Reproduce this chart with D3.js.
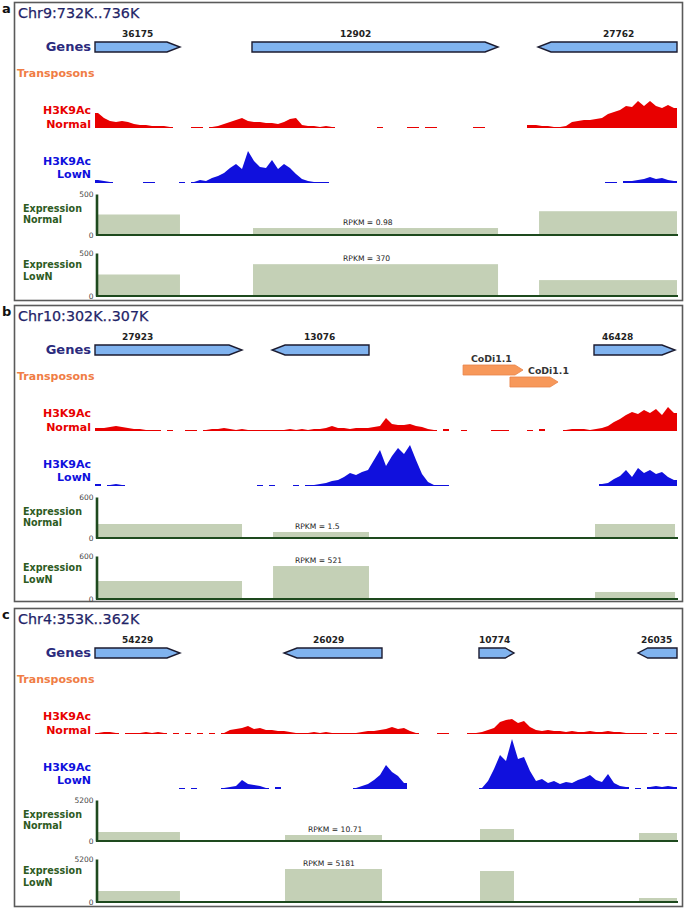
<!DOCTYPE html>
<html><head><meta charset="utf-8">
<script src="https://cdn.jsdelivr.net/npm/d3@7"></script>
<style>body{margin:0;background:#fff}svg{display:block}</style>
</head><body>
<svg id="chart" width="685" height="909"></svg>
<script>
// ---------------- DATA ----------------
const panelLetters = ["a", "b", "c"];
const regionTitles = ["Chr9:732K..736K", "Chr10:302K..307K", "Chr4:353K..362K"];
const regionStartKb = [732, 302, 353];
const regionEndKb = [736, 307, 362];

// genes: id, start/end (kb), strand, label anchor (kb)
const genesA = [
  {name: "36175", start: 732.000, end: 732.584, strand: 1, label: 732.186},
  {name: "12902", start: 733.079, end: 734.770, strand: 1, label: 733.684},
  {name: "27762", start: 735.045, end: 736.000, strand: -1, label: 735.491}
];
const genesB = [
  {name: "27923", start: 302.000, end: 303.263, strand: 1, label: 302.232},
  {name: "13076", start: 303.521, end: 304.354, strand: -1, label: 303.796},
  {name: "46428", start: 306.287, end: 306.983, strand: 1, label: 306.356}
];
const genesC = [
  {name: "54229", start: 353.000, end: 354.314, strand: 1, label: 353.418},
  {name: "26029", start: 355.923, end: 357.438, strand: -1, label: 356.371},
  {name: "10774", start: 358.938, end: 359.479, strand: 1, label: 358.938},
  {name: "26035", start: 361.397, end: 362.000, strand: -1, label: 361.443}
];
const transposonsA = [];
const transposonsB = [
  {name: "CoDi1.1", start: 305.162, end: 305.677, strand: 1, label: 305.230, row: 0},
  {name: "CoDi1.1", start: 305.565, end: 305.978, strand: 1, label: 305.720, row: 1}
];
const transposonsC = [];

// H3K9Ac coverage, equal bins across each region (null = no data)
const h3k9acNormalA = [15,10,7,6,7,6,4,3,3,2, 2,2,1,null,null,null,1,1,null,1,
  2,4,6,8,10,7,6,6,5,5, 4,6,9,10,3,2,2,1,2,1,
  null,null,null,null,null,null,null,1,null,null, null,null,1,1,null,1,1,null,null,null,
  null,null,null,1,1,null,null,null,null,null, null,null,3,3,2,2,1,1,2,6,
  7,8,8,9,10,14,16,18,22,21, 27,22,27,22,20,23,20];
const h3k9acLowNA = [3,2,1,null,null,null,null,null,1,1, null,null,null,null,1,null,1,3,2,5,
  7,10,15,19,14,32,22,16,15,23, 14,19,15,9,4,2,1,1,1,null,
  null,null,null,null,null,null,null,null,null,null, null,null,null,null,null,null,null,null,null,null,
  null,null,null,null,null,null,null,null,null,null, null,null,null,null,null,null,null,null,null,null,
  null,null,null,null,null,1,1,null,2,2, 3,4,6,4,5,3,2];
const h3k9acNormalB = [3,3,4,5,4,3,2,2,1,1, 1,null,1,null,null,1,1,null,1,2,
  2,3,2,1,2,1,1,1,1,1, 1,1,2,1,2,1,2,2,3,5,
  3,3,2,3,3,3,4,5,13,7, 6,6,7,5,4,2,1,null,2,null,
  null,1,null,null,null,null,1,1,1,null, null,null,1,null,2,null,null,null,1,2,
  2,2,1,2,3,5,9,12,16,19, 17,21,18,22,16,24,18];
const h3k9acLowNB = [2,null,1,2,1,null,null,null,null,null, null,null,null,null,null,null,null,null,null,null,
  null,null,null,null,null,null,null,1,null,1, null,null,null,1,null,1,1,2,3,5,
  6,9,13,11,14,16,26,36,20,30, 38,32,41,26,12,4,1,1,1,null,
  null,null,null,null,null,null,null,null,null,null, null,null,null,null,null,null,null,null,null,null,
  null,null,null,null,2,3,7,10,16,9, 18,13,16,12,14,9,6];
const h3k9acNormalC = [1,2,2,1,null,1,1,1,2,1, 2,1,null,1,null,1,null,1,null,1,
  null,1,4,5,6,8,5,6,4,4, 3,3,2,1,1,1,2,1,2,1,
  1,1,1,1,2,3,3,4,5,7, 5,6,3,1,null,null,null,1,1,null,
  null,null,1,1,2,4,6,12,14,15, 11,13,7,4,3,4,3,3,2,3,
  2,2,3,2,2,3,2,2,1,1, 1,1,null,1,null,1,1];
const h3k9acLowNC = [null,null,null,null,null,null,null,null,null,null, null,null,null,null,1,null,1,null,null,null,
  null,1,2,3,9,5,4,3,1,null, 2,null,null,null,null,null,null,null,null,null,
  null,null,null,1,3,5,9,14,24,17, 13,6,null,null,null,null,null,null,null,null,
  null,null,null,null,1,8,20,34,28,50, 30,32,18,8,10,6,8,5,7,6,
  9,11,14,9,7,15,6,3,2,null, 1,null,2,3,2,3,2];

// expression per gene (same order as genes)
const expressionNormalA = [250, 85, 290];
const expressionLowNA = [250, 370, 185];
const expressionNormalB = [205, 88, 205];
const expressionLowNB = [251, 460, 98];
const expressionNormalC = [1141, 761, 1522, 1015];
const expressionLowNC = [1330, 3990, 3749, 484];
const expressionAxisMax = [500, 600, 5200];
const rpkmNormal = ["RPKM = 0.98", "RPKM = 1.5", "RPKM = 10.71"];
const rpkmLowN = ["RPKM = 370", "RPKM = 521", "RPKM = 5181"];
const rpkmNormalAtKb = [733.705, 303.718, 356.294];
const rpkmLowNAtKb = [733.705, 303.718, 356.216];
const rpkmGeneIndex = [1, 1, 1];

// ---------------- DRAW ----------------
const panels = [
  {genes: genesA, tes: transposonsA, normal: h3k9acNormalA, lown: h3k9acLowNA, exN: expressionNormalA, exL: expressionLowNA},
  {genes: genesB, tes: transposonsB, normal: h3k9acNormalB, lown: h3k9acLowNB, exN: expressionNormalB, exL: expressionLowNB},
  {genes: genesC, tes: transposonsC, normal: h3k9acNormalC, lown: h3k9acLowNC, exN: expressionNormalC, exL: expressionLowNC}
];
const panelTop = [2, 305, 608];
const panelH = [298, 296, 298];
const FONT = "'DejaVu Sans', Verdana, sans-serif";
const svg = d3.select("#chart");
const X0 = 95, X1 = 677;
const sigH = d3.scaleLinear().domain([0, 50]).range([0, 50]);

function arrowPts(x0, x1, y0, y1, strand, maxHead) {
  const w = x1 - x0, h = Math.min(maxHead, w * 0.25), ym = (y0 + y1) / 2;
  if (strand > 0) return [[x0,y0],[x1-h,y0],[x1,ym],[x1-h,y1],[x0,y1]];
  return [[x0+h,y0],[x1,y0],[x1,y1],[x0+h,y1],[x0,ym]];
}

panels.forEach((P, p) => {
  const T = panelTop[p];
  const g = svg.append("g");
  const xs = d3.scaleLinear().domain([regionStartKb[p], regionEndKb[p]]).range([X0, X1]);

  g.append("rect").attr("x", 14.5).attr("y", T + 0.5).attr("width", 668).attr("height", panelH[p])
    .attr("fill", "none").attr("stroke", "#5a5a5a").attr("stroke-width", 1.6);
  g.append("text").attr("x", 2).attr("y", T + 11).text(panelLetters[p])
    .attr("font-family", FONT).attr("font-weight", "bold").attr("font-size", 13).attr("fill", "#111");
  g.append("text").attr("x", 18).attr("y", T + 16).text(regionTitles[p])
    .attr("font-family", FONT).attr("font-size", 14.3).attr("fill", "#1f2468")
    .attr("stroke", "#1f2468").attr("stroke-width", 0.25);

  // Genes
  g.append("text").attr("x", 91).attr("y", T + 49).attr("text-anchor", "end").text("Genes")
    .attr("font-family", FONT).attr("font-weight", "bold").attr("font-size", 13).attr("fill", "#2b2b7d");
  P.genes.forEach(d => {
    const pts = arrowPts(xs(d.start), xs(d.end), T + 40, T + 50, d.strand, 13);
    g.append("polygon").attr("points", pts.map(q => q.join(",")).join(" "))
      .attr("fill", "#80b3ef").attr("stroke", "#1b1b30").attr("stroke-width", 1.4);
    g.append("text").attr("x", xs(d.label)).attr("y", T + 35).text(d.name)
      .attr("font-family", FONT).attr("font-weight", "bold").attr("font-size", 9).attr("fill", "#222");
  });

  // Transposons
  g.append("text").attr("x", 17).attr("y", T + 75).text("Transposons")
    .attr("font-family", FONT).attr("font-weight", "bold").attr("font-size", 11).attr("fill", "#f07d45");
  P.tes.forEach(d => {
    const y0 = T + 60 + d.row * 12;
    const pts = arrowPts(xs(d.start), xs(d.end), y0, y0 + 10, d.strand, 8);
    g.append("polygon").attr("points", pts.map(q => q.join(",")).join(" "))
      .attr("fill", "#f7985a").attr("stroke", "#e8844a").attr("stroke-width", 0.8);
    g.append("text").attr("x", xs(d.label)).attr("y", y0 - 3).text(d.name)
      .attr("font-family", FONT).attr("font-weight", "bold").attr("font-size", 9.4).attr("fill", "#333");
  });

  // Signal tracks
  function drawSignal(values, base, color, labelLines, labelOff) {
    const n = values.length, span = regionEndKb[p] - regionStartKb[p];
    const binStart = i => regionStartKb[p] + i / n * span;
    const runs = [];
    let cur = null;
    values.forEach((v, i) => {
      if (v == null) { cur = null; return; }
      if (!cur) { cur = []; runs.push(cur); cur.push({x: xs(binStart(i)), v}); }
      cur.push({x: xs(binStart(i + 0.5)), v});
      cur.lastIdx = i;
    });
    runs.forEach(r => { const i = r.lastIdx; r.push({x: xs(binStart(i + 1)), v: r[r.length - 1].v}); });
    const area = d3.area().x(d => d.x).y0(base).y1(d => base - sigH(d.v));
    runs.forEach(r => g.append("path").attr("d", area(r)).attr("fill", color));
    labelLines.forEach((t, k) => {
      g.append("text").attr("x", 91).attr("y", base + labelOff[k]).attr("text-anchor", "end").text(t)
        .attr("font-family", FONT).attr("font-weight", "bold").attr("font-size", 11).attr("fill", color);
    });
  }
  drawSignal(P.normal, T + 126, "#e80000", ["H3K9Ac", "Normal"], [-14, 0]);
  drawSignal(P.lown, T + 181, "#1010dd", ["H3K9Ac", "LowN"], [-18, -5]);

  // Expression tracks
  function drawExpr(values, top, bottom, lines, labY, rpkm, rpkmKb) {
    const ys = d3.scaleLinear().domain([0, expressionAxisMax[p]]).range([bottom, top]);
    P.genes.forEach((d, i) => {
      g.append("rect").attr("x", xs(d.start) + 1).attr("y", ys(values[i]))
        .attr("width", xs(d.end) - xs(d.start) - 1).attr("height", bottom - ys(values[i]))
        .attr("fill", "#c4d0b6");
    });
    g.append("line").attr("x1", 96).attr("x2", 678).attr("y1", bottom).attr("y2", bottom)
      .attr("stroke", "#1e4a1e").attr("stroke-width", 2);
    const ax = g.append("g").attr("transform", "translate(96.5,0)")
      .call(d3.axisLeft(ys).tickValues([0, expressionAxisMax[p]]).tickFormat(d3.format("d")).tickSize(0).tickPadding(3));
    ax.select(".domain").attr("stroke", "#1e4a1e").attr("stroke-width", 2.6);
    ax.selectAll("text").attr("font-family", FONT).attr("font-size", 7.5).attr("fill", "#444");
    lines.forEach((t, k) => {
      g.append("text").attr("x", 23).attr("y", labY[k]).text(t)
        .attr("font-family", FONT).attr("font-weight", "bold").attr("font-size", 9.6).attr("fill", "#2e5b1f");
    });
    g.append("text").attr("x", xs(rpkmKb)).attr("y", ys(values[rpkmGeneIndex[p]]) - 3).text(rpkm)
      .attr("font-family", FONT).attr("font-size", 7.6).attr("fill", "#222");
  }
  drawExpr(P.exN, T + 192, T + 233, ["Expression", "Normal"], [T + 210, T + 221], rpkmNormal[p], rpkmNormalAtKb[p]);
  drawExpr(P.exL, T + 251, T + 294, ["Expression", "LowN"], [T + 266, T + 278], rpkmLowN[p], rpkmLowNAtKb[p]);
});
</script>
</body></html>
